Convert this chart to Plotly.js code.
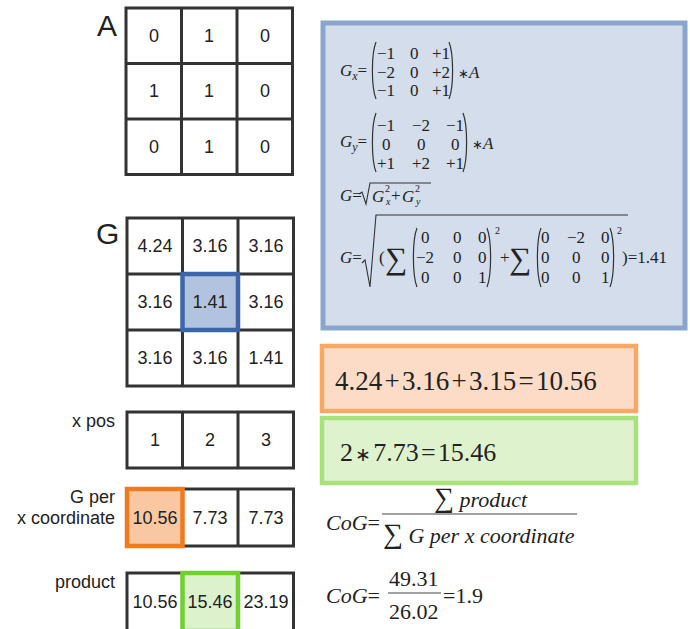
<!DOCTYPE html>
<html><head><meta charset="utf-8">
<script src="https://cdn.plot.ly/plotly-3.0.1.min.js"></script>
<style>html,body{margin:0;padding:0;background:#fff}</style>
</head><body><div id="chart" style="width:690px;height:629px"></div>
<script>
// ---------- data ----------
const gridA = [[0,1,0],[1,1,0],[0,1,0]];
const gridG = [[4.24,3.16,3.16],[3.16,1.41,3.16],[3.16,3.16,1.41]];
const xPos = [1,2,3];
const gPerX = [10.56,7.73,7.73];
const product = [10.56,15.46,23.19];
const kernelX = [["−1","0","+1"],["−2","0","+2"],["−1","0","+1"]];
const kernelY = [["−1","−2","−1"],["0","0","0"],["+1","+2","+1"]];
const exampleGx = [["0","0","0"],["−2","0","0"],["0","0","1"]];
const exampleGy = [["0","−2","0"],["0","0","0"],["0","0","1"]];
const exampleG = 1.41;
const columnSumTerms = [4.24,3.16,3.15];
const columnSum = 10.56;
const productTerms = [2,7.73];
const productResult = 15.46;
const cogNumerator = 49.31, cogDenominator = 26.02, cogResult = 1.9;
const rowLabels = ["x pos", "G per", "x coordinate", "product"];
const gridLabels = ["A","G"];

// ---------- drawing ----------
const SANS = 'Liberation Sans, Arial, sans-serif';
const SERIF = 'Liberation Serif, Times New Roman, serif';
const INK = '#222';
const traces = [], shapes = [], ann = [];
function txt(x, y, text, o) {
  o = o || {};
  ann.push({x:x, y:y, xref:'x', yref:'y', text:text, showarrow:false,
    xanchor:o.xa||'left', yanchor:o.ya||'middle',
    font:{family:o.family||SERIF, size:o.size||17, color:o.color||INK}});
}
function fmt2(v){ return (typeof v==='number' && !Number.isInteger(v)) ? v.toFixed(2) : String(v); }
function grid(vals, x0, y0, cw, ch, hl, hlFill, hlLine) {
  const rows = Array.isArray(vals[0]) ? vals : [vals];
  const nR = rows.length, nC = rows[0].length;
  const z = rows.map((r,i)=>r.map((v,j)=>(hl && hl[0]===i && hl[1]===j)?1:0));
  traces.push({type:'heatmap', z:z, x0:x0+cw/2, dx:cw, y0:y0+ch/2, dy:ch,
    text: rows.map(r=>r.map(fmt2)), texttemplate:'%{text}',
    textfont:{family:SANS, size:18, color:INK},
    colorscale:[[0,'#ffffff'],[1,hlFill||'#ffffff']], zmin:0, zmax:1,
    showscale:false, hoverinfo:'skip'});
  for (let i=1;i<nR;i++) shapes.push({type:'line', xref:'x', yref:'y', x0:x0, x1:x0+nC*cw, y0:y0+i*ch, y1:y0+i*ch, line:{color:'#333',width:3}});
  for (let j=1;j<nC;j++) shapes.push({type:'line', xref:'x', yref:'y', x0:x0+j*cw, x1:x0+j*cw, y0:y0, y1:y0+nR*ch, line:{color:'#333',width:3}});
  shapes.push({type:'rect', xref:'x', yref:'y', x0:x0, x1:x0+nC*cw, y0:y0, y1:y0+nR*ch, line:{color:'#333',width:3}});
  if (hl) shapes.push({type:'rect', xref:'x', yref:'y', x0:x0+hl[1]*cw, x1:x0+(hl[1]+1)*cw, y0:y0+hl[0]*ch, y1:y0+(hl[0]+1)*ch, line:{color:hlLine,width:4.5}});
}
function paren(x, yT, yB, side) {
  const d = side==='L' ? 4 : -4;
  shapes.push({type:'path', xref:'x', yref:'y',
    path:`M ${x+d},${yT} C ${x-d*0.2},${yT+12} ${x-d*0.2},${yB-12} ${x+d},${yB}`,
    line:{color:'#333', width:1.2}});
}
function matrix(m, cols, rows, pl, pr, yT, yB) {
  m.forEach((r,i)=>r.forEach((v,j)=>txt(cols[j], rows[i], v, {xa:'center'})));
  paren(pl, yT, yB, 'L'); paren(pr, yT, yB, 'R');
}

// grids
const CW = 55.5;
grid(gridA, 126, 8, CW, 55.5, null);
grid(gridG, 127, 218, CW, 56, [1,1], '#b1c3de', '#3b66ab');
grid(xPos, 127, 412, CW, 56, null);
grid(gPerX, 127, 489, CW, 57, [0,0], '#f9c8a2', '#f27a1e');
grid(product, 127, 573, CW, 58, [0,1], '#dcf2cd', '#6fd030');

txt(107, 25, gridLabels[0], {xa:'center', family:SANS, size:30});
txt(107, 233, gridLabels[1], {xa:'center', family:SANS, size:30});
txt(117, 421, rowLabels[0], {xa:'right', family:SANS, size:18});
txt(117, 497, rowLabels[1], {xa:'right', family:SANS, size:18});
txt(117, 518, rowLabels[2], {xa:'right', family:SANS, size:18});
txt(117, 582, rowLabels[3], {xa:'right', family:SANS, size:18});

// boxes
shapes.push({type:'rect', layer:'below', xref:'x', yref:'y', x0:323, x1:685, y0:23, y1:328, fillcolor:'#d3ddeb', line:{color:'#8ba6cd', width:5}});
shapes.push({type:'rect', layer:'below', xref:'x', yref:'y', x0:322, x1:636, y0:346, y1:411, fillcolor:'#fcdcc6', line:{color:'#f7a864', width:4.5}});
shapes.push({type:'rect', layer:'below', xref:'x', yref:'y', x0:322, x1:636, y0:418, y1:483, fillcolor:'#dff2ce', line:{color:'#a9e17a', width:4.5}});

const STAR = '<span style="font-size:13px">∗</span>';
// Gx
txt(338, 72, '<i>G</i><sub><i>x</i></sub>=');
matrix(kernelX, [386,414,441], [53,72,90], 372, 453, 42, 99);
txt(456, 72, STAR + '<i>A</i>');
// Gy
txt(338, 143, '<i>G</i><sub><i>y</i></sub>=');
matrix(kernelY, [386,421,455], [125,144,163], 372, 467, 113, 172);
txt(470, 143, STAR + '<i>A</i>');
// G = sqrt(Gx^2+Gy^2)
txt(338, 195, '<i>G</i>=');
shapes.push({type:'path', xref:'x', yref:'y', path:'M 359,194 L 362,192 L 366,204 L 370,183 L 431,183', line:{color:'#333',width:1.1}});
txt(370, 196, '<i>G</i>'); txt(383, 188, '2', {size:10}); txt(383, 201, '<i>x</i>', {size:10});
txt(389, 195, '+');
txt(400, 196, '<i>G</i>'); txt(413, 188, '2', {size:10}); txt(413, 201, '<i>y</i>', {size:10});
// G = sqrt(sum(...)^2 + sum(...)^2) = 1.41
txt(338, 257, '<i>G</i>=');
shapes.push({type:'path', xref:'x', yref:'y', path:'M 362,263 L 365,260 L 370,287 L 376,215 L 628,215', line:{color:'#333',width:1.1}});
txt(377, 257, '(');
txt(383, 258, '∑', {size:31});
matrix(exampleGx, [425,457,482], [237,257,277], 413, 491, 228, 287);
txt(493, 230, '2', {size:10});
txt(498, 257, '+');
txt(507, 258, '∑', {size:31});
matrix(exampleGy, [545,576,605], [237,257,277], 537, 614, 228, 287);
txt(615, 230, '2', {size:10});
txt(620, 257, ')=' + exampleG.toFixed(2));

// column sum / product
const sp = '\u200A';
txt(333, 381, columnSumTerms.map(v=>v.toFixed(2)).join(sp+'+'+sp) + sp+'='+sp + columnSum.toFixed(2), {size:27});
txt(338, 452, productTerms[0] + sp + '<span style="font-size:19px">∗</span>' + sp + productTerms[1].toFixed(2) + sp+'='+sp + productResult.toFixed(2), {size:26});

// CoG formula
txt(324, 522, '<i>CoG</i>=', {size:22});
shapes.push({type:'line', xref:'x', yref:'y', x0:382, x1:577, y0:514, y1:514, line:{color:'#444', width:1.2}});
txt(481, 497, '<span style="font-size:28px">∑</span> <i>product</i>', {xa:'center', size:22});
txt(479, 533, '<span style="font-size:28px">∑</span> <i>G per x coordinate</i>', {xa:'center', size:22});
txt(324, 595, '<i>CoG</i>=', {size:22});
shapes.push({type:'line', xref:'x', yref:'y', x0:388, x1:441, y0:593, y1:593, line:{color:'#444', width:1.2}});
txt(414, 578, cogNumerator.toFixed(2), {xa:'center', size:22});
txt(414, 611, cogDenominator.toFixed(2), {xa:'center', size:22});
txt(441, 595, '=' + cogResult, {size:22});

const layout = {
  width:690, height:629, margin:{l:0,r:0,t:0,b:0},
  paper_bgcolor:'#ffffff', plot_bgcolor:'#ffffff', showlegend:false,
  xaxis:{range:[0,690], visible:false, fixedrange:true},
  yaxis:{range:[629,0], visible:false, fixedrange:true},
  shapes:shapes, annotations:ann
};
Plotly.newPlot('chart', traces, layout, {displayModeBar:false, staticPlot:true});
</script></body></html>
